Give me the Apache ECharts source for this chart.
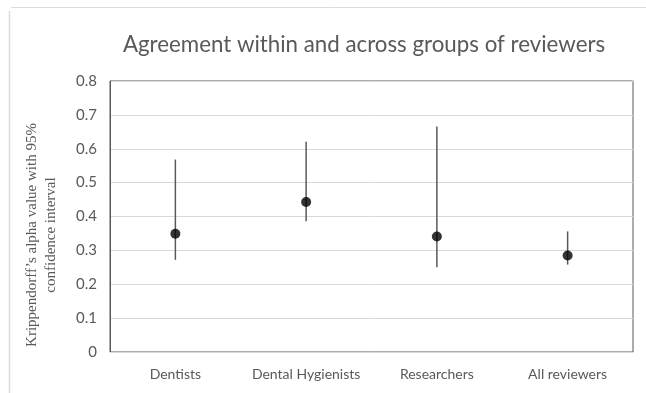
<!DOCTYPE html>
<html><head><meta charset="utf-8">
<script src="https://cdn.jsdelivr.net/npm/echarts@6/dist/echarts.min.js"></script>
<style>html,body{margin:0;padding:0;background:#fff}#c{width:646px;height:393px}</style>
</head><body><div id="c"></div>
<script>
var categories = ['Dentists', 'Dental Hygienists', 'Researchers', 'All reviewers'];
var alpha = [0.349, 0.443, 0.341, 0.285];
var lower = [0.272, 0.386, 0.250, 0.258];
var upper = [0.568, 0.621, 0.666, 0.356];
var yTicks = [0, 0.1, 0.2, 0.3, 0.4, 0.5, 0.6, 0.7, 0.8];

var chart = echarts.init(document.getElementById('c'), null, {renderer: 'canvas'});
var ciData = categories.map(function (c, i) { return [i, lower[i], upper[i]]; });
chart.setOption({
  animation: false,
  backgroundColor: '#fff',
  title: {
    text: 'Agreement within and across groups of reviewers',
    left: 359, top: 29, textAlign: 'center',
    textStyle: {fontFamily: 'Lato', fontSize: 22.3, fontWeight: 'normal', color: '#595959'}
  },
  graphic: [
    {type: 'line', shape: {x1: 11, y1: 7.5, x2: 646, y2: 7.5}, style: {stroke: '#dcdcdc', lineWidth: 1}},
    {type: 'line', shape: {x1: 9.5, y1: 11, x2: 9.5, y2: 393}, style: {stroke: '#dcdcdc', lineWidth: 1.5}},
    {type: 'text', rotation: Math.PI / 2, x: 42, y: 235,
     style: {text: 'Krippendorff\u2019s alpha value with 95%\nconfidence interval', fill: '#595959',
             font: '15px "Liberation Serif"', align: 'center', verticalAlign: 'middle', lineHeight: 19}}
  ],
  grid: {left: 110, right: 13, top: 81, bottom: 41, show: true, borderColor: '#595959', borderWidth: 1},
  xAxis: {
    type: 'category', data: categories, boundaryGap: true,
    axisLine: {show: true, lineStyle: {color: '#d9d9d9', width: 1}},
    axisTick: {show: false},
    axisLabel: {interval: 0, color: '#595959', fontFamily: 'Lato', fontSize: 14, margin: 15}
  },
  yAxis: {
    type: 'value', min: 0, max: 0.8, interval: 0.1,
    axisLine: {show: true, lineStyle: {color: '#595959'}},
    axisTick: {show: false},
    axisLabel: {color: '#595959', fontFamily: 'Lato', fontSize: 15, margin: 13,
      formatter: function (v) { var t = yTicks.find(function (x) { return Math.abs(x - v) < 1e-9; }); return t === 0 ? '0' : String(t); }},
    splitLine: {lineStyle: {color: '#d9d9d9', width: 1}}
  },
  series: [
    {
      type: 'custom', data: ciData, z: 2,
      renderItem: function (params, api) {
        var lo = api.coord([api.value(0), api.value(1)]);
        var hi = api.coord([api.value(0), api.value(2)]);
        return {type: 'line', shape: {x1: lo[0], y1: lo[1], x2: hi[0], y2: hi[1]},
                style: {stroke: '#595959', lineWidth: 1.5}};
      },
      encode: {x: 0, y: [1, 2]}
    },
    {
      type: 'scatter', data: alpha, symbol: 'circle', symbolSize: 10, z: 3,
      itemStyle: {color: '#000'}
    }
  ]
});
</script></body></html>
